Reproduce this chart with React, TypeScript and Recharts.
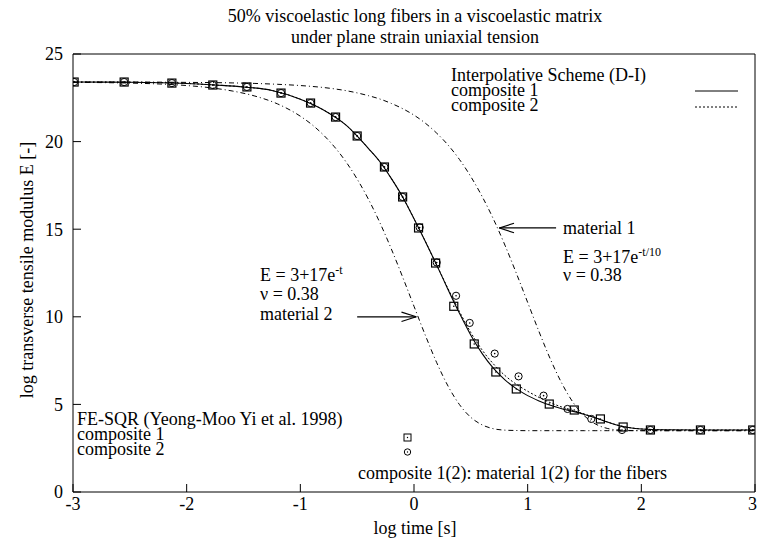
import {
  ComposedChart,
  Customized,
  Line,
  ReferenceLine,
  Scatter,
  XAxis,
  YAxis,
} from "recharts";

const FONT = "'Liberation Serif', 'Times New Roman', serif";

// log time grid used for the two single-material curves
const materialX = [
  -3, -2.5, -2, -1.8, -1.6, -1.4, -1.2, -1, -0.9, -0.8, -0.7, -0.6, -0.5, -0.4,
  -0.3, -0.2, -0.1, 0, 0.1, 0.2, 0.3, 0.4, 0.5, 0.6, 0.7, 0.8, 0.9, 1.0, 1.1,
  1.2, 1.3, 1.4, 1.5, 1.6, 1.7, 1.8, 2.0, 2.5, 3.0,
];
// material 1: E = 3+17e^(-t/10)
const material1E = [
  23.4, 23.4, 23.38, 23.37, 23.35, 23.32, 23.27, 23.2, 23.15, 23.09, 23.01,
  22.91, 22.78, 22.62, 22.43, 22.18, 21.88, 21.51, 21.05, 20.48, 19.8, 18.98,
  18.0, 16.86, 15.56, 14.09, 12.49, 10.82, 9.15, 7.58, 6.21, 5.11, 4.34, 3.87,
  3.63, 3.54, 3.5, 3.5, 3.5,
];
// material 2: E = 3+17e^(-t)
const material2E = [
  23.38, 23.34, 23.2, 23.08, 22.89, 22.6, 22.15, 21.45, 20.98, 20.4, 19.7,
  18.86, 17.86, 16.7, 15.37, 13.88, 12.27, 10.6, 8.94, 7.38, 6.04, 4.99, 4.26,
  3.83, 3.61, 3.53, 3.51, 3.5, 3.5, 3.5, 3.5, 3.5, 3.5, 3.5, 3.5, 3.5, 3.5, 3.5,
  3.5,
];

// interpolative scheme (D-I)
const compositeX = [
  -3, -2.5, -2, -1.75, -1.5, -1.25, -1, -0.8, -0.6, -0.4, -0.3, -0.2, -0.1, 0,
  0.1, 0.2, 0.3, 0.4, 0.5, 0.6, 0.7, 0.8, 0.9, 1.0, 1.1, 1.2, 1.3, 1.4, 1.5,
  1.6, 1.7, 1.8, 1.9, 2.0, 2.2, 2.5, 3.0,
];
const composite1E = [
  23.4, 23.39, 23.32, 23.23, 23.12, 22.92, 22.42, 21.82, 20.95, 19.6, 18.85,
  17.9, 16.84, 15.6, 14.3, 12.95, 11.55, 10.2, 8.95, 7.9, 7.05, 6.4, 5.9, 5.5,
  5.2, 4.95, 4.75, 4.6, 4.42, 4.22, 4.0, 3.8, 3.67, 3.6, 3.55, 3.54, 3.54,
];
const composite2E = [
  23.4, 23.39, 23.32, 23.23, 23.12, 22.92, 22.42, 21.82, 20.95, 19.6, 18.85,
  17.9, 16.84, 15.6, 14.3, 12.95, 11.6, 10.3, 9.1, 8.1, 7.3, 6.65, 6.15, 5.75,
  5.4, 5.1, 4.85, 4.65, 4.45, 4.22, 4.0, 3.8, 3.67, 3.6, 3.55, 3.54, 3.54,
];

// FE-SQR (Yeong-Moo Yi et al. 1998)
const feComposite1X = [
  -2.99, -2.55, -2.13, -1.77, -1.47, -1.17, -0.91, -0.69, -0.5, -0.26, -0.1,
  0.04, 0.19, 0.35, 0.53, 0.72, 0.9, 1.19, 1.41, 1.64, 1.84, 2.08, 2.52, 2.98,
];
const feComposite1E = [
  23.4, 23.4, 23.34, 23.23, 23.12, 22.77, 22.2, 21.4, 20.32, 18.55, 16.84,
  15.07, 13.07, 10.6, 8.45, 6.85, 5.88, 5.02, 4.68, 4.17, 3.71, 3.54, 3.54,
  3.54,
];
const feComposite2X = [
  -2.99, -2.55, -2.13, -1.77, -1.47, -1.17, -0.91, -0.69, -0.5, -0.26, -0.1,
  0.05, 0.2, 0.37, 0.49, 0.71, 0.92, 1.14, 1.35, 1.56, 1.83, 2.08, 2.52, 2.98,
];
const feComposite2E = [
  23.4, 23.4, 23.34, 23.23, 23.12, 22.77, 22.2, 21.4, 20.32, 18.55, 16.84,
  15.1, 13.1, 11.2, 9.65, 7.9, 6.6, 5.5, 4.74, 4.17, 3.54, 3.54, 3.54, 3.54,
];

const xTicks = [-3, -2, -1, 0, 1, 2, 3];
const yTicks = [0, 5, 10, 15, 20, 25];
const xInnerTicks = [-2, -1, 0, 1, 2];
const yInnerTicks = [5, 10, 15, 20];

const zip = (xs: number[], ys: number[]) =>
  xs.map((x, i) => ({ x, y: ys[i] }));

const material1 = zip(materialX, material1E);
const material2 = zip(materialX, material2E);
const composite1 = zip(compositeX, composite1E);
const composite2 = zip(compositeX, composite2E);
const feComposite1 = zip(feComposite1X, feComposite1E);
const feComposite2 = zip(feComposite2X, feComposite2E);

const DASH_DOT = "5 3 1 3";
const DOTTED = "2 2";

function SquareMark(props: any) {
  const { cx, cy } = props;
  if (cx == null || cy == null) return null;
  return (
    <g>
      <rect x={cx - 4} y={cy - 4} width={8} height={8} fill="none" stroke="#000" strokeWidth={1.2} />
      <circle cx={cx} cy={cy} r={0.8} fill="#000" />
    </g>
  );
}

function CircleMark(props: any) {
  const { cx, cy } = props;
  if (cx == null || cy == null) return null;
  return (
    <g>
      <circle cx={cx} cy={cy} r={3.6} fill="none" stroke="#000" strokeWidth={1} />
      <circle cx={cx} cy={cy} r={0.8} fill="#000" />
    </g>
  );
}

function Annotations() {
  const t = { fontFamily: FONT, fontSize: 18, fill: "#000" };
  return (
    <g>
      <text x={415} y={22} textAnchor="middle" {...t}>
        50% viscoelastic long fibers in a viscoelastic matrix
      </text>
      <text x={415} y={43} textAnchor="middle" {...t}>
        under plane strain uniaxial tension
      </text>
      <text x={415} y={534} textAnchor="middle" {...t}>
        log time [s]
      </text>
      <text x={0} y={0} textAnchor="middle" transform="translate(33, 270) rotate(-90)" {...t}>
        log transverse tensile modulus E [-]
      </text>

      <text x={451} y={81} {...t}>Interpolative Scheme (D-I)</text>
      <text x={451} y={96} {...t}>composite 1</text>
      <text x={451} y={111} {...t}>composite 2</text>
      <line x1={695} x2={738} y1={91} y2={91} stroke="#000" strokeWidth={1} />
      <line x1={695} x2={738} y1={107} y2={107} stroke="#000" strokeWidth={1} strokeDasharray={DOTTED} />

      <text x={563} y={234} {...t}>material 1</text>
      <text x={563} y={263} {...t}>
        E = 3+17e<tspan fontSize={12} dy={-7}>-t/10</tspan>
      </text>
      <text x={563} y={281} {...t}>ν = 0.38</text>

      <text x={260} y={281} {...t}>
        E = 3+17e<tspan fontSize={12} dy={-7}>-t</tspan>
      </text>
      <text x={260} y={300} {...t}>ν = 0.38</text>
      <text x={260} y={320} {...t}>material 2</text>

      <text x={77} y={425} {...t}>FE-SQR (Yeong-Moo Yi et al. 1998)</text>
      <text x={77} y={440} {...t}>composite 1</text>
      <text x={77} y={455} {...t}>composite 2</text>
      <rect x={404} y={434} width={7} height={7} fill="none" stroke="#000" strokeWidth={1} />
      <circle cx={407.5} cy={437.5} r={0.7} fill="#000" />
      <circle cx={407.5} cy={452} r={3.2} fill="none" stroke="#000" strokeWidth={1} />
      <circle cx={407.5} cy={452} r={0.7} fill="#000" />

      <text x={358} y={479} {...t}>composite 1(2): material 1(2) for the fibers</text>
    </g>
  );
}

const tickStyle = { fill: "#000", fontSize: 18, fontFamily: FONT };

export default function App() {
  return (
    <div style={{ position: "absolute", left: 0, top: 0, width: 757, height: 542, background: "#fff" }}>
      <ComposedChart
        width={757}
        height={542}
        margin={{ top: 53, right: 1, bottom: 20, left: 0 }}
      >
        <XAxis
          dataKey="x"
          type="number"
          domain={[-3, 3]}
          ticks={xTicks}
          allowDataOverflow
          height={30}
          tickSize={-8}
          tickMargin={13}
          stroke="#000"
          tick={tickStyle}
        />
        <XAxis
          xAxisId="top"
          orientation="top"
          type="number"
          domain={[-3, 3]}
          ticks={xInnerTicks}
          allowDataOverflow
          height={1}
          tickSize={-8}
          tick={false}
          stroke="#000"
        />
        <YAxis
          dataKey="y"
          type="number"
          domain={[0, 25]}
          ticks={yTicks}
          allowDataOverflow
          width={73}
          tickSize={-8}
          tickMargin={18}
          stroke="#000"
          tick={tickStyle}
        />
        <YAxis
          yAxisId="right"
          orientation="right"
          type="number"
          domain={[0, 25]}
          ticks={yInnerTicks}
          allowDataOverflow
          width={1}
          tickSize={-8}
          tick={false}
          stroke="#000"
        />

        <Line data={material1} dataKey="y" type="monotone" stroke="#000" strokeWidth={1} strokeDasharray={DASH_DOT} dot={false} isAnimationActive={false} />
        <Line data={material2} dataKey="y" type="monotone" stroke="#000" strokeWidth={1} strokeDasharray={DASH_DOT} dot={false} isAnimationActive={false} />
        <Line data={composite2} dataKey="y" type="monotone" stroke="#000" strokeWidth={1} strokeDasharray={DOTTED} dot={false} isAnimationActive={false} />
        <Line data={composite1} dataKey="y" type="monotone" stroke="#000" strokeWidth={1.1} dot={false} isAnimationActive={false} />

        <Scatter data={feComposite1} dataKey="y" shape={<SquareMark />} isAnimationActive={false} />
        <Scatter data={feComposite2} dataKey="y" shape={<CircleMark />} isAnimationActive={false} />

        {/* arrow to material 2 */}
        <ReferenceLine segment={[{ x: -0.5, y: 10 }, { x: 0.02, y: 10 }]} stroke="#000" strokeWidth={1.2} />
        <ReferenceLine segment={[{ x: -0.11, y: 10.27 }, { x: 0.02, y: 10 }]} stroke="#000" strokeWidth={1.2} />
        <ReferenceLine segment={[{ x: -0.11, y: 9.73 }, { x: 0.02, y: 10 }]} stroke="#000" strokeWidth={1.2} />
        {/* arrow to material 1 */}
        <ReferenceLine segment={[{ x: 1.25, y: 15.07 }, { x: 0.75, y: 15.07 }]} stroke="#000" strokeWidth={1.2} />
        <ReferenceLine segment={[{ x: 0.88, y: 15.34 }, { x: 0.75, y: 15.07 }]} stroke="#000" strokeWidth={1.2} />
        <ReferenceLine segment={[{ x: 0.88, y: 14.8 }, { x: 0.75, y: 15.07 }]} stroke="#000" strokeWidth={1.2} />

        <Customized component={Annotations} />
      </ComposedChart>
    </div>
  );
}
